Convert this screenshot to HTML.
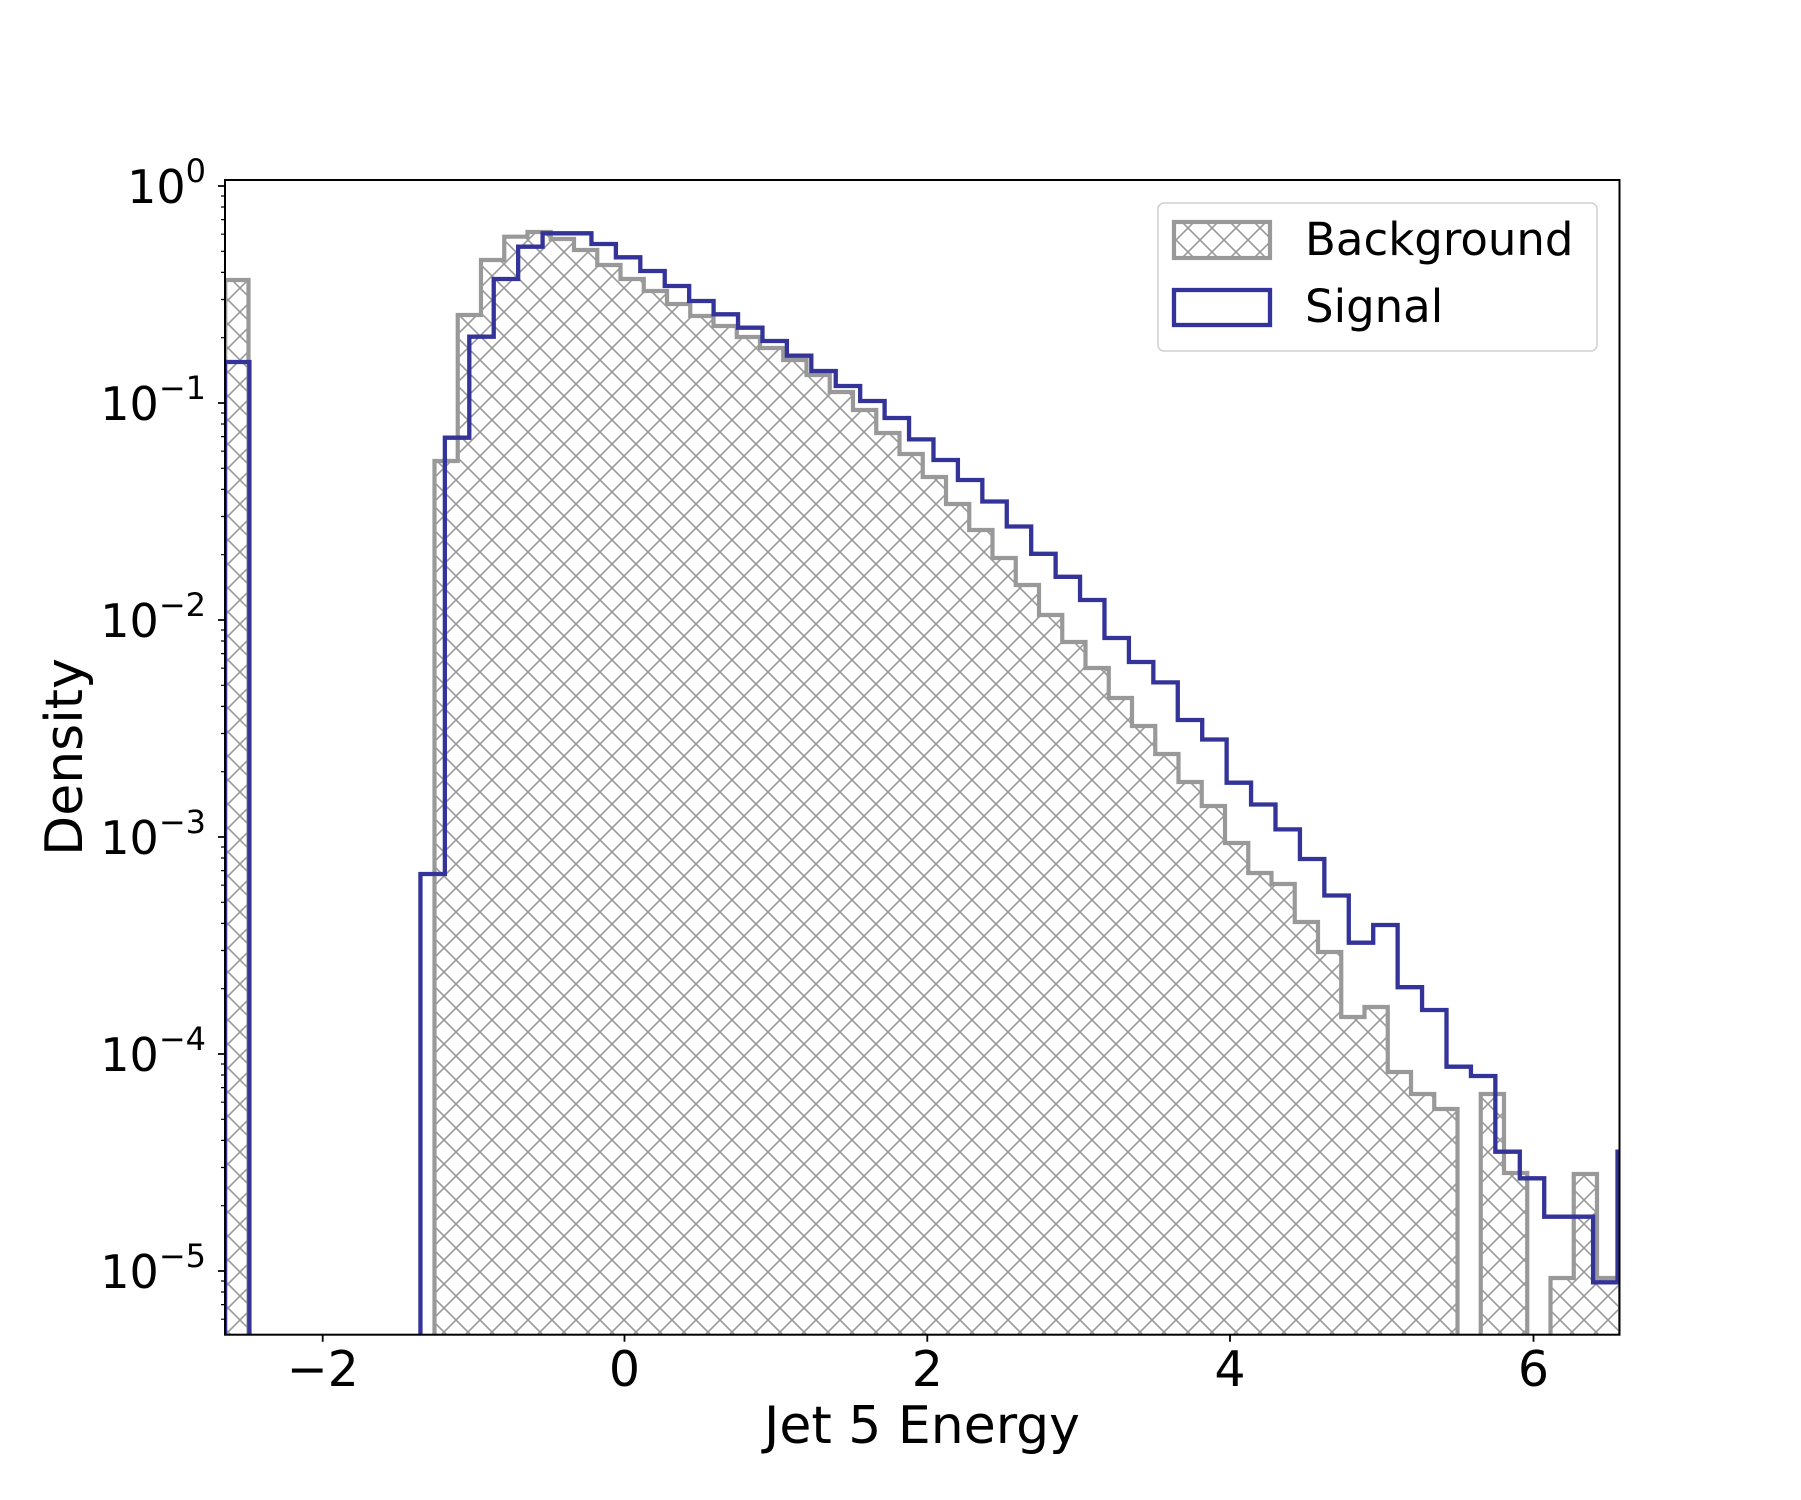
<!DOCTYPE html>
<html><head><meta charset="utf-8"><style>html,body{margin:0;padding:0;background:#fff;}svg{display:block;}</style></head>
<body>
<svg width="1801" height="1500" viewBox="0 0 1801 1500" xmlns="http://www.w3.org/2000/svg" font-family="'DejaVu Sans','Liberation Sans',sans-serif">
<defs>
<pattern id="h" patternUnits="userSpaceOnUse" width="24" height="24">
<path d="M0,0 L24,24 M0,24 L24,0 M-2,2 L2,-2 M22,26 L26,22 M-2,22 L2,26 M22,-2 L26,2" stroke="#999" stroke-width="1.6" fill="none"/>
</pattern>
<clipPath id="c"><rect x="225" y="180" width="1394.5" height="1154.7"/></clipPath>
</defs>
<rect width="1801" height="1500" fill="#fff"/>
<g clip-path="url(#c)">
<path d="M225.25,1400 V280 H248.5 V1400 H434.5 V461 H457.75 V315 H481 V260 H504.25 V236.7 H527.5 V232 H550.75 V239 H574 V250 H597.25 V265 H620.5 V279 H643.75 V291 H667 V304 H690.25 V316 H713.5 V326 H736.75 V337 H760 V348 H783.25 V360 H806.5 V375 H829.75 V392 H853 V410 H876.25 V433 H899.5 V454 H922.75 V477 H946 V504 H969.25 V530 H992.5 V558 H1015.75 V585 H1039 V615 H1062.25 V642 H1085.5 V668 H1108.75 V698 H1132 V726 H1155.25 V754 H1178.5 V782 H1201.75 V806 H1225 V843 H1248.25 V873 H1271.5 V884 H1294.75 V922 H1318 V952 H1341.25 V1017 H1364.5 V1007 H1387.75 V1072 H1411 V1094 H1434.25 V1109 H1457.5 V1400 H1480.75 V1094 H1504 V1173 H1527.25 V1400 H1550.5 V1278 H1573.75 V1174 H1597 V1278 H1620.25 V1400 Z" fill="url(#h)" stroke="#999" stroke-width="4.2"/>
<path d="M225,1400 V362 H249.43 V1400 H420.44 V874 H444.87 V437.7 H469.3 V336.7 H493.73 V279 H518.16 V246.7 H542.59 V233.3 H591.45 V244 H615.88 V257.3 H640.31 V271 H664.74 V286 H689.17 V301 H713.6 V314.3 H738.03 V327.7 H762.46 V341 H786.89 V355.7 H811.32 V371 H835.75 V386 H860.18 V401 H884.61 V418 H909.04 V439.4 H933.47 V460 H957.9 V480 H982.33 V501.5 H1006.76 V526.5 H1031.19 V553.8 H1055.62 V576.8 H1080.05 V600 H1104.48 V638 H1128.91 V662 H1153.34 V682.4 H1177.77 V720 H1202.2 V739.5 H1226.63 V782.7 H1251.06 V804.5 H1275.49 V829.4 H1299.92 V859 H1324.35 V895.5 H1348.78 V942.7 H1373.21 V925 H1397.64 V987.2 H1422.07 V1010 H1446.5 V1066.7 H1470.93 V1076 H1495.36 V1151.7 H1519.79 V1178.3 H1544.22 V1216.7 H1593.08 V1282.3 H1617.51 V1151.7 H1641.94 V1400" fill="none" stroke="#333399" stroke-width="4.3"/>
</g>
<rect x="225" y="180" width="1394.5" height="1154.7" fill="none" stroke="#000" stroke-width="2"/>
<path d="M322.7,1334.7 v7 M624.5,1334.7 v7 M927.3,1334.7 v7 M1230,1334.7 v7 M1533.5,1334.7 v7" stroke="#000" stroke-width="1.8"/>
<g font-size="49" text-anchor="middle" fill="#000">
<text x="322.7" y="1386">−2</text>
<text x="624.5" y="1386">0</text>
<text x="927.3" y="1386">2</text>
<text x="1230" y="1386">4</text>
<text x="1533.5" y="1386">6</text>
</g>
<text x="922" y="1443" font-size="52" text-anchor="middle">Jet 5 Energy</text>
<path d="M218,186 h7 M218,403 h7 M218,620 h7 M218,837 h7 M218,1054 h7 M218,1271 h7" stroke="#000" stroke-width="1.8"/>
<path d="M221,1319.2h4M221,1304.6h4M221,1292h4M221,1281h4M221,1205.7h4M221,1167.5h4M221,1140.4h4M221,1119.3h4M221,1102.2h4M221,1087.6h4M221,1075h4M221,1064h4M221,988.7h4M221,950.5h4M221,923.4h4M221,902.3h4M221,885.2h4M221,870.6h4M221,858h4M221,847h4M221,771.7h4M221,733.5h4M221,706.4h4M221,685.3h4M221,668.2h4M221,653.6h4M221,641h4M221,630h4M221,554.7h4M221,516.5h4M221,489.4h4M221,468.3h4M221,451.2h4M221,436.6h4M221,424h4M221,413h4M221,337.7h4M221,299.5h4M221,272.4h4M221,251.3h4M221,234.2h4M221,219.6h4M221,207h4M221,196h4" stroke="#000" stroke-width="1.2"/>
<g font-size="46" text-anchor="end" fill="#000">
<text x="206" y="203">10<tspan font-size="32" dy="-21">0</tspan></text>
<text x="206" y="420">10<tspan font-size="32" dy="-21">−1</tspan></text>
<text x="206" y="637">10<tspan font-size="32" dy="-21">−2</tspan></text>
<text x="206" y="854">10<tspan font-size="32" dy="-21">−3</tspan></text>
<text x="206" y="1071">10<tspan font-size="32" dy="-21">−4</tspan></text>
<text x="206" y="1288">10<tspan font-size="32" dy="-21">−5</tspan></text>
</g>
<text transform="translate(82,757) rotate(-90)" font-size="52" text-anchor="middle">Density</text>
<rect x="1158" y="203" width="439" height="148" rx="6" fill="#fff" fill-opacity="0.8" stroke="#d0d0d0" stroke-width="1.5"/>
<rect x="1174" y="222" width="96" height="36" fill="url(#h)" stroke="#999" stroke-width="4.2"/>
<rect x="1174" y="290" width="96" height="35" fill="none" stroke="#333399" stroke-width="4.3"/>
<text x="1305" y="255" font-size="45">Background</text>
<text x="1305" y="322" font-size="45">Signal</text>
</svg>
</body></html>
